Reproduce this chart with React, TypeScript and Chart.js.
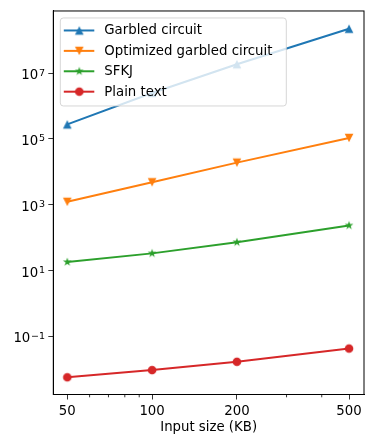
import React, { useEffect, useRef } from "react";
import { Chart, registerables } from "chart.js";

Chart.register(...registerables);

const inputSizes = [50, 100, 200, 500];
const seriesLabels = ["Garbled circuit", "Optimized garbled circuit", "SFKJ", "Plain text"];
const garbled = [2.76e5, 2.5e6, 1.87e7, 2.25e8];
const optimized = [1.22e3, 4.8e3, 1.9e4, 1.07e5];
const sfkj = [18, 33, 72, 233];
const plain = [0.0056, 0.0093, 0.0166, 0.042];
const xMajorTicks = [50, 100, 200, 500];
const xMinorTicks = [60, 70, 80, 90, 300, 400];
const yTicks = [1e-1, 1e1, 1e3, 1e5, 1e7];
const yTickExponents = ["\u22121", "1", "3", "5", "7"];
const colors = ["#1f77b4", "#ff7f0e", "#2ca02c", "#d62728"];

const FONT = "'DejaVu Sans', sans-serif";

function makeMarker(kind: string, color: string): HTMLCanvasElement {
  const c = document.createElement("canvas");
  c.width = 12;
  c.height = 12;
  const g = c.getContext("2d")!;
  g.fillStyle = color;
  g.beginPath();
  const cx = 6, cy = 6;
  if (kind === "up") {
    const s = 4.3;
    g.moveTo(cx, cy - s);
    g.lineTo(cx - s, cy + s);
    g.lineTo(cx + s, cy + s);
  } else if (kind === "down") {
    const s = 4.3;
    g.moveTo(cx, cy + s);
    g.lineTo(cx - s, cy - s);
    g.lineTo(cx + s, cy - s);
  } else if (kind === "star") {
    const R = 4.6, r = R * 0.381966;
    for (let i = 0; i < 10; i++) {
      const a = -Math.PI / 2 + (i * Math.PI) / 5;
      const rr = i % 2 === 0 ? R : r;
      const px = cx + rr * Math.cos(a);
      const py = cy + rr * Math.sin(a);
      if (i === 0) g.moveTo(px, py);
      else g.lineTo(px, py);
    }
  } else {
    g.arc(cx, cy, 4.3, 0, Math.PI * 2);
  }
  g.closePath();
  g.fill();
  return c;
}

export default function App() {
  const ref = useRef<HTMLCanvasElement>(null);

  useEffect(() => {
    if (!ref.current) return;
    const markerKinds = ["up", "down", "star", "circle"];
    const markers = markerKinds.map((k, i) => makeMarker(k, colors[i]));
    const values = [garbled, optimized, sfkj, plain];

    const minorTickPlugin = {
      id: "minorTicks",
      afterDraw(chart: any) {
        const ctx = chart.ctx;
        const xs = chart.scales.x;
        ctx.save();
        ctx.strokeStyle = "#000";
        ctx.lineWidth = 0.8;
        xMinorTicks.forEach((v) => {
          const px = xs.getPixelForValue(v);
          ctx.beginPath();
          ctx.moveTo(px, xs.top);
          ctx.lineTo(px, xs.top + 2.8);
          ctx.stroke();
        });
        ctx.restore();
      },
    };

    const yLabelPlugin = {
      id: "yMathLabels",
      afterDraw(chart: any) {
        const ctx = chart.ctx;
        const ys = chart.scales.y;
        ctx.save();
        ctx.fillStyle = "#000";
        ctx.textBaseline = "alphabetic";
        ctx.textAlign = "left";
        yTicks.forEach((v, i) => {
          const py = ys.getPixelForValue(v);
          const base = "10";
          const exp = yTickExponents[i];
          ctx.font = "13.3px " + FONT;
          const wb = ctx.measureText(base).width;
          ctx.font = "9.5px " + FONT;
          const we = ctx.measureText(exp).width;
          const gap = 0.8;
          const right = ys.right - 5 - 3.2;
          const x = right - (wb + gap + we);
          const baseY = py + 6.3;
          ctx.font = "13.3px " + FONT;
          ctx.fillText(base, x, baseY);
          ctx.font = "9.5px " + FONT;
          ctx.fillText(exp, x + wb + gap, baseY - 3.8);
        });
        ctx.restore();
      },
    };

    const legendPlugin = {
      id: "mplLegend",
      afterDatasetsDraw(chart: any) {
        const ctx = chart.ctx;
        const area = chart.chartArea;
        const x0 = area.left + 7;
        const y0 = area.top + 7;
        const w = 226;
        const h = 88;
        ctx.save();
        ctx.beginPath();
        const r = 3;
        ctx.moveTo(x0 + r, y0);
        ctx.lineTo(x0 + w - r, y0);
        ctx.quadraticCurveTo(x0 + w, y0, x0 + w, y0 + r);
        ctx.lineTo(x0 + w, y0 + h - r);
        ctx.quadraticCurveTo(x0 + w, y0 + h, x0 + w - r, y0 + h);
        ctx.lineTo(x0 + r, y0 + h);
        ctx.quadraticCurveTo(x0, y0 + h, x0, y0 + h - r);
        ctx.lineTo(x0, y0 + r);
        ctx.quadraticCurveTo(x0, y0, x0 + r, y0);
        ctx.closePath();
        ctx.fillStyle = "rgba(255,255,255,0.8)";
        ctx.fill();
        ctx.strokeStyle = "rgba(204,204,204,0.8)";
        ctx.lineWidth = 1;
        ctx.stroke();
        chart.data.datasets.forEach((ds: any, i: number) => {
          const y = y0 + 12.5 + i * 20.4;
          ctx.beginPath();
          ctx.strokeStyle = ds.borderColor;
          ctx.lineWidth = 2;
          ctx.moveTo(x0 + 3.5, y);
          ctx.lineTo(x0 + 34, y);
          ctx.stroke();
          const m = ds.pointStyle;
          if (m instanceof HTMLCanvasElement) {
            ctx.drawImage(m, x0 + 19 - m.width / 2, y - m.height / 2);
          }
          ctx.fillStyle = "#000";
          ctx.font = "13.3px " + FONT;
          ctx.textBaseline = "middle";
          ctx.textAlign = "left";
          ctx.fillText(ds.label, x0 + 44, y + 0.5);
        });
        ctx.restore();
      },
    };

    const chart = new Chart(ref.current, {
      type: "line",
      data: {
        datasets: seriesLabels.map((label, i) => ({
          label,
          data: inputSizes.map((x, j) => ({ x, y: values[i][j] })),
          borderColor: colors[i],
          backgroundColor: colors[i],
          borderWidth: 2,
          pointStyle: markers[i] as any,
          pointRadius: 4.5,
          pointHoverRadius: 4.5,
          tension: 0,
        })),
      },
      options: {
        animation: false,
        responsive: false,
        events: [],
        layout: { padding: { top: 10, right: 8, left: 0, bottom: 0 } },
        plugins: {
          legend: { display: false },
          tooltip: { enabled: false },
        },
        scales: {
          x: {
            type: "logarithmic",
            min: 44.6,
            max: 565,
            afterBuildTicks(scale: any) {
              scale.ticks = [...xMajorTicks, ...xMinorTicks]
                .sort((a, b) => a - b)
                .map((v) => ({ value: v }));
            },
            afterFit(scale: any) {
              scale.height = 53.5;
            },
            ticks: {
              autoSkip: false,
              maxRotation: 0,
              minRotation: 0,
              padding: 4,
              color: "#000",
              font: { family: FONT, size: 13.3 },
              callback: (v: any) => (xMajorTicks.includes(Number(v)) ? String(v) : ""),
            },
            grid: {
              display: true,
              drawOnChartArea: false,
              drawTicks: true,
              tickLength: 5,
              tickWidth: 0.8,
              color: (c: any) =>
                c.tick && xMajorTicks.includes(Number(c.tick.value)) ? "#000" : "rgba(0,0,0,0)",
            },
            border: { display: true, color: "#000", width: 1 },
            title: {
              display: true,
              text: "Input size (KB)",
              color: "#000",
              font: { family: FONT, size: 13.3 },
              padding: { top: 0, bottom: 12 },
            },
          },
          y: {
            type: "logarithmic",
            min: 1.68e-3,
            max: 7.8e8,
            afterBuildTicks(scale: any) {
              scale.ticks = yTicks.map((v) => ({ value: v }));
            },
            afterFit(scale: any) {
              scale.width = 53.3;
            },
            ticks: {
              autoSkip: false,
              padding: 3,
              color: "#000",
              font: { family: FONT, size: 13.3 },
              callback: () => "",
            },
            grid: {
              display: true,
              drawOnChartArea: false,
              drawTicks: true,
              tickLength: 5,
              tickWidth: 0.8,
              color: "#000",
            },
            border: { display: true, color: "#000", width: 1 },
          },
        },
      },
      plugins: [minorTickPlugin, legendPlugin, yLabelPlugin,
        {
          id: "frame",
          afterDraw(chart: any) {
            const a = chart.chartArea;
            const ctx = chart.ctx;
            ctx.save();
            ctx.strokeStyle = "#000";
            ctx.lineWidth = 1;
            ctx.strokeRect(a.left, a.top, a.right - a.left, a.bottom - a.top);
            ctx.restore();
          },
        },
      ],
    });
    return () => chart.destroy();
  }, []);

  return (
    <div style={{ position: "fixed", left: 0, top: 0, width: 372, height: 448, background: "#fff" }}>
      <canvas ref={ref} width={372} height={448} style={{ width: 372, height: 448 }} />
    </div>
  );
}
